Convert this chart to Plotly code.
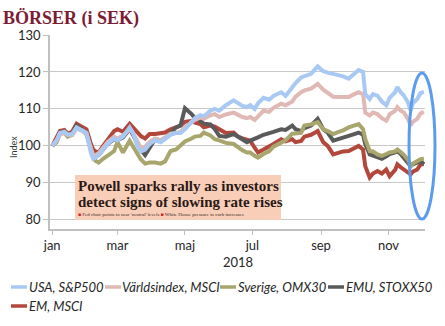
import plotly.graph_objects as go

dates = ["2018-01-01","2018-01-05","2018-01-08","2018-01-12","2018-01-15","2018-01-19","2018-01-23","2018-01-29",
         "2018-02-01","2018-02-05","2018-02-07","2018-02-09","2018-02-12","2018-02-16","2018-02-20","2018-02-26",
         "2018-03-01","2018-03-06","2018-03-12","2018-03-15","2018-03-19","2018-03-22","2018-03-26","2018-03-30",
         "2018-04-04","2018-04-09","2018-04-13","2018-04-18","2018-04-23","2018-04-27","2018-05-01","2018-05-07",
         "2018-05-10","2018-05-15","2018-05-18","2018-05-24","2018-05-28","2018-06-01","2018-06-07","2018-06-14",
         "2018-06-18","2018-06-22","2018-06-26","2018-06-29","2018-07-03","2018-07-06","2018-07-11","2018-07-16",
         "2018-07-20","2018-07-27","2018-07-31","2018-08-06","2018-08-09","2018-08-14","2018-08-17","2018-08-23",
         "2018-08-29","2018-09-03","2018-09-07","2018-09-12","2018-09-17","2018-09-21","2018-09-26","2018-10-01",
         "2018-10-05","2018-10-09","2018-10-11","2018-10-15","2018-10-18","2018-10-22","2018-10-26","2018-10-30",
         "2018-11-02","2018-11-07","2018-11-09","2018-11-12","2018-11-15","2018-11-19","2018-11-21","2018-11-23",
         "2018-11-27","2018-11-30","2018-12-03"]

usa = [100,101.5,103.5,103.8,103,103.2,105,104,103.5,98,96.5,96.8,97.5,99,100.5,102,
       101.5,102.5,105,103.5,100,98.5,99,100.5,101.5,101,101.8,103,103.5,103.5,104.5,106.5,
       107.5,108.3,108,109.5,110,109.5,111,112.3,111.5,110.8,110.5,111,110,111.5,113,112.5,
       113.5,114.5,113.5,116,117,118.5,118.8,119.5,121.5,120.2,119.8,119.5,119,118.8,118.2,119.5,
       120.5,120,114,112.7,114,113.6,112,111,113,114.5,115.9,114.5,113.6,111.5,109.5,111.5,
       112.7,114.3,114.6]

varld = [100,101.5,103.3,103.5,103,103,104.8,104,103.3,99,97.5,97.5,98,99.5,101,102.5,
         102,102.8,104.5,103.5,101,99.5,99.8,101,102,101.5,102.3,103.3,103.5,103.8,105,106.5,
         107,107.7,107.3,108.3,108.6,107.8,108.5,109,108.3,107.8,107.5,107.8,107,108,109.5,109.2,
         110.3,111.4,111,112,113.3,114.5,115,115.5,116.8,115.2,114.3,113.3,113.2,113.2,113.2,114,
         114.5,114,109,108.2,109,108.6,107.5,106.8,108.5,109.5,110.5,109.5,109,107,105.5,106.5,
         107.3,108.8,109.2]

sverige = [100,101,103.3,103.5,102.5,103,104.8,104,103,99,97,96,95.5,96.5,97.3,98.6,
           101,98.2,101.4,100,98.2,96.4,95.2,95.5,95.5,95.2,95.8,98.6,99,100,101.2,102,
           102.5,102.7,103.6,102.8,101.8,101.5,100.8,100.5,99.5,98.8,98.2,98.2,97.3,96.8,97.8,98.5,
           99.8,100.8,101.5,103.3,103.3,103.5,105.5,105.8,106.4,104.5,104,103.2,103.8,104.2,105,105.5,
           105.9,104.5,101.8,98.6,98.5,97.7,97.3,97.8,98.2,98.5,99,98.3,97.5,96,94.5,95.2,
           96,96.4,96.5]

emu = [100,101.3,103.6,103.8,102.8,103.2,105.5,104.2,103.5,99.5,98,97.5,97.5,99,100.5,101.8,
       101.5,102.3,104.5,103,100.5,99,97.5,99.5,101.8,101.5,102,103.5,105,105.5,110.2,108.6,
       107.5,106.8,106,105.8,104.5,102.7,102.5,103.2,102.5,101.5,101,101.4,101.8,102.3,103,103.6,
       103.8,104.5,104.3,105.5,104.5,104,104.8,105.5,107.3,104.5,103.6,101.4,101.8,102.2,102.7,103.2,
       103.6,103,100.5,97.7,97.3,96.8,96.5,97.2,97.8,98.2,98.6,97.8,96.8,95.5,94.5,95,
       95.5,95.9,95]

em = [100,102,104,104.3,103.3,103.8,106,105,104.5,100.5,99,98.5,98.2,100,101.5,104,
      104.5,103.8,106,105,103.6,102.7,102,103.2,103.2,103.5,103.6,104.5,105,105.5,106.5,106.8,
      106.3,105.9,105,105.5,105.2,104.5,103.5,103.6,102.5,102,101.5,101.4,99.5,98.2,99,100,
      100.5,101.8,101.2,101.8,101,101.3,102.5,103,104,101,100,97.7,98.2,98.5,98.6,99.3,
      100,99,94.5,91.4,92.5,93.2,92.5,93.6,91.8,93.5,95,94.2,93.6,92.8,92.3,93,
      93.6,95,95]

names = ["USA, S&P500", "Världsindex, MSCI", "Sverige, OMX30", "EMU, STOXX50", "EM, MSCI"]
series = [usa, varld, sverige, emu, em]
colors = ["#a9c9f5", "#e0b8b4", "#a8a66c", "#5a5a5a", "#b3473b"]

tick_vals = ["2018-01-01","2018-03-01","2018-05-01","2018-07-01","2018-09-01","2018-11-01"]
tick_text = ["jan","mar","maj","jul","sep","nov"]
y_ticks = [80, 90, 100, 110, 120, 130]

W, H = 445, 326
PL, PR, PT, PB = 50, 425, 35, 229

def px(x):
    return (x - PL) / (PR - PL)

def py(y):
    return (PB - y) / (PB - PT)

fig = go.Figure()
# draw bottom-most first so USA ends on top
for i in [4, 3, 2, 1, 0]:
    fig.add_trace(go.Scatter(x=dates, y=series[i], mode="lines", name=names[i],
                             line=dict(color=colors[i], width=4), showlegend=False))

shapes = []
annotations = []

# custom legend
legend_items = [(11, 287, 28), (105, 287, 121), (220, 287, 237), (328, 287, 345), (11, 306, 28)]
for (lx, ly, tx), name, col in zip(legend_items, names, colors):
    shapes.append(dict(type="line", xref="paper", yref="paper", x0=px(lx), x1=px(lx + 16),
                       y0=py(ly), y1=py(ly), line=dict(color=col, width=3.5)))
    annotations.append(dict(xref="paper", yref="paper", x=px(tx), y=py(ly), xanchor="left",
                            yanchor="middle", showarrow=False, text="<i>" + name + "</i>",
                            font=dict(family="Lato", size=13, color="#262626"), borderpad=0))

# headline box
shapes.append(dict(type="rect", xref="paper", yref="paper", x0=px(75), x1=px(281),
                   y0=py(220), y1=py(175), fillcolor="#f9ceb9", line=dict(width=0), layer="above"))
annotations.append(dict(xref="paper", yref="paper", x=px(77), y=py(185.5), xanchor="left",
                        yanchor="middle", showarrow=False, borderpad=0,
                        text="<b>Powell sparks rally as investors</b>",
                        font=dict(family="Liberation Serif", size=15, color="#2a1a16")))
annotations.append(dict(xref="paper", yref="paper", x=px(77), y=py(202), xanchor="left",
                        yanchor="middle", showarrow=False, borderpad=0,
                        text="<b>detect signs of slowing rate rises</b>",
                        font=dict(family="Liberation Serif", size=15, color="#2a1a16")))
annotations.append(dict(xref="paper", yref="paper", x=px(77), y=py(214), xanchor="left",
                        yanchor="middle", showarrow=False, borderpad=0,
                        text="<span style='color:#d0202a'>■</span> Fed chair points to near 'neutral' levels "
                             "<span style='color:#d0202a'>■</span> White House pressure to curb increases",
                        font=dict(family="Liberation Serif", size=5, color="#3a2a26")))

# ellipse
shapes.append(dict(type="circle", xref="paper", yref="paper", x0=px(409), x1=px(435),
                   y0=py(219), y1=py(73), line=dict(color="#5b9cef", width=3), layer="above"))

# title
annotations.append(dict(xref="paper", yref="paper", x=px(2), y=py(18), xanchor="left",
                        yanchor="middle", showarrow=False, borderpad=0,
                        text="<b>BÖRSER (i SEK)</b>",
                        font=dict(family="Liberation Serif", size=18, color="#7b1c34")))
# y axis title
annotations.append(dict(xref="paper", yref="paper", x=px(13), y=py(147), xanchor="center",
                        yanchor="middle", showarrow=False, textangle=-90, text="Index",
                        font=dict(family="Lato", size=9, color="#333333")))
# year label
annotations.append(dict(xref="paper", yref="paper", x=px(238), y=py(262), xanchor="center",
                        yanchor="middle", showarrow=False, text="2018",
                        font=dict(family="Lato", size=13, color="#262626")))

fig.update_layout(
    width=W, height=H,
    margin=dict(l=PL, r=W - PR, t=PT, b=H - PB),
    paper_bgcolor="white", plot_bgcolor="white",
    shapes=shapes, annotations=annotations, showlegend=False,
    xaxis=dict(range=["2017-12-30", "2018-12-04"], tickvals=tick_vals, ticktext=tick_text,
               showgrid=False, showline=True, linecolor="#c0c0c0", linewidth=1.5,
               ticks="outside", ticklen=4, tickcolor="#c0c0c0",
               tickfont=dict(family="Lato", size=13, color="#262626"), zeroline=False),
    yaxis=dict(range=[77.5, 130], tickvals=y_ticks, showgrid=True, gridcolor="#c8c8c8", gridwidth=1.3,
               showline=True, linecolor="#c0c0c0", linewidth=1.5, ticks="outside", ticklen=5,
               tickcolor="#c0c0c0", tickfont=dict(family="Lato", size=13, color="#262626"),
               zeroline=False),
)

fig.write_html("out.html")
